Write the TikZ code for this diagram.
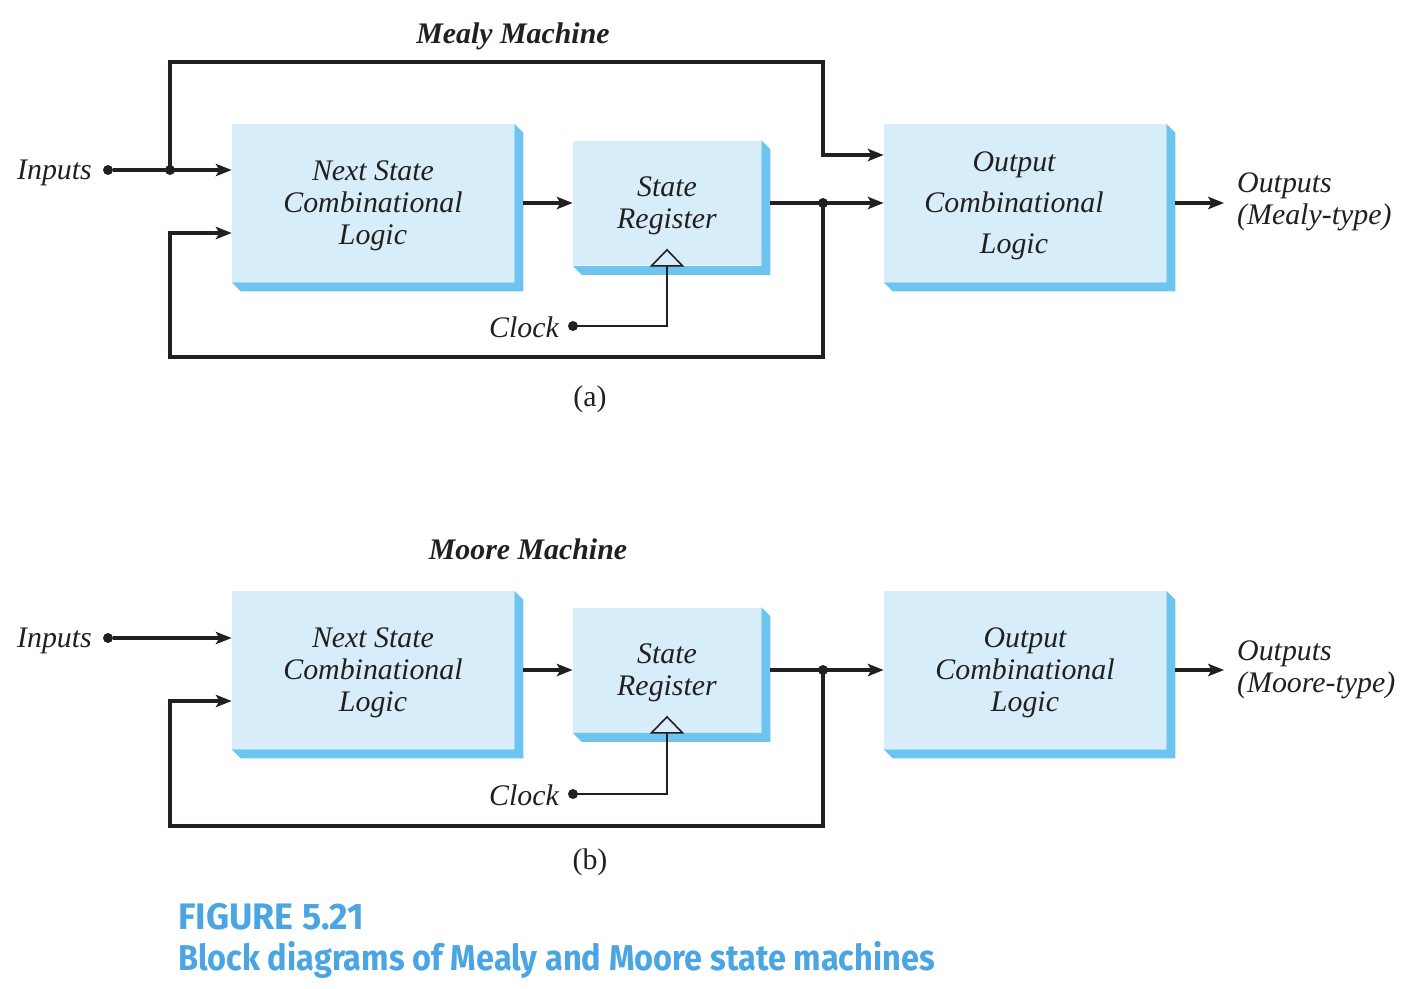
\documentclass[tikz,border=0pt]{standalone}
\usepackage{fontspec}
\setmainfont{Liberation Serif}
\newfontfamily\capfont{Fira Sans}
\usetikzlibrary{arrows.meta,calc}
\definecolor{face}{HTML}{D8EDFA}
\definecolor{shadowblue}{HTML}{6CC4EF}
\definecolor{capblue}{HTML}{4AA5E2}
\definecolor{ink}{HTML}{231F20}
\tikzset{
  txt/.style={font=\fontsize{17}{18.2}\selectfont\itshape, text=ink},
  blktxt/.style={txt, align=center},
  blk/.style={fill=face, inner sep=0pt},
  bigblk/.style={blk, minimum width=5.64cm, minimum height=3.16cm},
  regblk/.style={blk, minimum width=3.76cm, minimum height=2.5cm},
  wire/.style={line width=1.9pt, draw=ink},
  thinwire/.style={line width=0.9pt, draw=ink},
  arr/.style={-{Stealth[length=9pt,width=7pt,inset=2pt]}},
  dot/.style={circle, fill=ink, inner sep=0pt, minimum size=0.2cm},
  ttl/.style={font=\fontsize{17}{18.2}\selectfont\bfseries\itshape, text=ink},
  sub/.style={font=\fontsize{17}{18.2}\selectfont, text=ink},
  captxt/.style={font=\capfont\bfseries\fontsize{20}{24}\selectfont, text=capblue, anchor=base west}
}
\newcommand\boxshadow[1]{\fill[shadowblue] (#1.north east) -- ++(9,9) -- ($(#1.south east)+(9,9)$) -- ($(#1.south west)+(9,9)$) -- (#1.south west) -- (#1.south east) -- cycle;}
\newcommand\clocktri[1]{\draw[thinwire] ($(#1.south)+(-15.5,0)$) -- ($(#1.south)+(0,-16)$) -- ($(#1.south)+(15.5,0)$) -- cycle;}
\begin{document}
\begin{tikzpicture}[x=0.02cm,y=-0.02cm]
\useasboundingbox (0,0) rectangle (1416,988);
% ---------------- (a) Mealy ----------------
\node[ttl] (tA) at (513,36) {Mealy Machine};
\node[bigblk] (nsA) at (373,203) {};
\node[regblk] (srA) at (667,203) {};
\node[bigblk] (opA) at (1025,203) {};
\boxshadow{nsA}\boxshadow{srA}\boxshadow{opA}
\node[blktxt] (nsAt) at ($(nsA)+(0,3)$) {Next State\\Combinational\\Logic};
\node[blktxt] (srAt) at ($(srA)+(0,3)$) {State\\Register};
\node[blktxt] (opAt) at ($(opA.center)+(-11,3)$) {Output\\[5pt]Combinational\\[5pt]Logic};
\clocktri{srA}
\node[dot] (inA) at (108,170) {};
\node[txt, anchor=east] (inAl) at (98,173) {Inputs};
\node[dot] (jA) at (170,170) {};
\node[dot] (fbA) at (823,203) {};
\coordinate (topA) at (823,62);
\coordinate (botA) at (170,357);
\coordinate (outA) at (1224,203);
\draw[wire,arr] (inA) -- (inA -| nsA.west);
\draw[wire,arr] (jA.center) |- (topA) |- ($(opA.west)+(0,-48)$);
\draw[wire,arr] (fbA.center) |- (botA) |- ($(nsA.west)+(0,30)$);
\draw[wire,arr] ($(nsA.east)+(9,0)$) -- (srA.west);
\draw[wire,arr] ($(srA.east)+(9,0)$) -- (opA.west);
\draw[wire,arr] ($(opA.east)+(9,0)$) -- (outA);
\node[txt, anchor=west, align=left] (oA) at (1231,202) {Outputs\\(Mealy-type)};
\node[dot] (clkA) at (573,326) {};
\node[txt, anchor=east] (clkAl) at (565,327) {Clock};
\draw[thinwire] (clkA.center) -| (srA.south);
\node[sub] (subA) at (590,399) {(a)};
% ---------------- (b) Moore ----------------
\node[ttl] (tB) at (528,549) {Moore Machine};
\node[bigblk] (nsB) at (373,670) {};
\node[regblk] (srB) at (667,670) {};
\node[bigblk] (opB) at (1025,670) {};
\boxshadow{nsB}\boxshadow{srB}\boxshadow{opB}
\node[blktxt] (nsBt) at ($(nsB)+(0,3)$) {Next State\\Combinational\\Logic};
\node[blktxt] (srBt) at ($(srB)+(0,3)$) {State\\Register};
\node[blktxt] (opBt) at ($(opB)+(0,3)$) {Output\\Combinational\\Logic};
\clocktri{srB}
\node[dot] (inB) at (108,638) {};
\node[txt, anchor=east] (inBl) at (98,641) {Inputs};
\node[dot] (fbB) at (823,670) {};
\coordinate (botB) at (170,826);
\coordinate (outB) at (1224,670);
\draw[wire,arr] (inB) -- (inB -| nsB.west);
\draw[wire,arr] (fbB.center) |- (botB) |- ($(nsB.west)+(0,31)$);
\draw[wire,arr] ($(nsB.east)+(9,0)$) -- (srB.west);
\draw[wire,arr] ($(srB.east)+(9,0)$) -- (opB.west);
\draw[wire,arr] ($(opB.east)+(9,0)$) -- (outB);
\node[txt, anchor=west, align=left] (oB) at (1231,670) {Outputs\\(Moore-type)};
\node[dot] (clkB) at (573,794) {};
\node[txt, anchor=east] (clkBl) at (565,795) {Clock};
\draw[thinwire] (clkB.center) -| (srB.south);
\node[sub] (subB) at (590,862) {(b)};
% ---------------- caption ----------------
\node[captxt] (fig) at (172,929) {\scalebox{1.02}[1.05]{FIGURE 5.21}};
\node[captxt] (figt) at (172,970) {\scalebox{0.925}[1.02]{Block diagrams of Mealy and Moore state machines}};
\end{tikzpicture}
\end{document}
